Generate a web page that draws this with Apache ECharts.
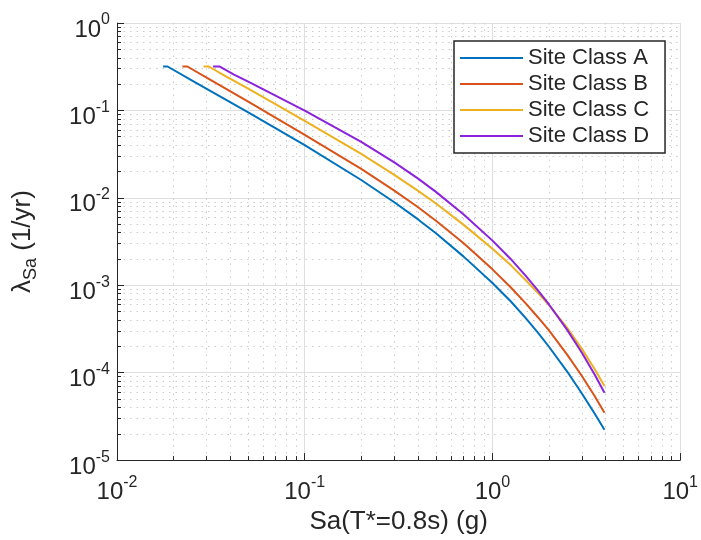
<!DOCTYPE html>
<html>
<head>
<meta charset="utf-8">
<script src="https://cdn.jsdelivr.net/npm/echarts@6/dist/echarts.min.js"></script>
<style>
html,body{margin:0;padding:0;background:#fff;}
#chart{width:701px;height:540px;}
</style>
</head>
<body>
<div id="chart"></div>
<script>
// Data
const seriesNames = ['Site Class A', 'Site Class B', 'Site Class C', 'Site Class D'];
const saA = [0.0176, 0.0186, 0.025, 0.05, 0.1, 0.2, 0.3, 0.4, 0.5, 0.7, 1, 1.25, 1.5, 1.75, 2, 2.5, 3, 3.5, 3.95];
const lamA = [0.318, 0.318, 0.220, 0.0951, 0.0400, 0.0160, 0.0089, 0.0057, 0.00393, 0.00214, 0.00106, 0.000656, 0.000424, 0.000285, 0.000198, 0.000103, 0.0000575, 0.0000341, 0.0000222];
const saB = [0.0223, 0.0237, 0.03, 0.05, 0.1, 0.2, 0.3, 0.4, 0.5, 0.7, 1, 1.25, 1.5, 1.75, 2, 2.5, 3, 3.5, 3.95];
const lamB = [0.318, 0.318, 0.237, 0.126, 0.0526, 0.0214, 0.0121, 0.00785, 0.00548, 0.00305, 0.00152, 0.000948, 0.000624, 0.000428, 0.000304, 0.000161, 0.000091, 0.000054, 0.0000349];
const saC = [0.0289, 0.0308, 0.038, 0.05, 0.1, 0.2, 0.3, 0.4, 0.5, 0.7, 1, 1.25, 1.5, 1.75, 2, 2.5, 3, 3.5, 3.95];
const lamC = [0.318, 0.318, 0.245, 0.177, 0.076, 0.0318, 0.0183, 0.0121, 0.00861, 0.00494, 0.00262, 0.0017, 0.00115, 0.000813, 0.000594, 0.000325, 0.000186, 0.00011, 0.0000703];
const saD = [0.0325, 0.0351, 0.042, 0.05, 0.1, 0.2, 0.3, 0.4, 0.5, 0.7, 1, 1.25, 1.5, 1.75, 2, 2.5, 3, 3.5, 3.95];
const lamD = [0.318, 0.318, 0.257, 0.213, 0.0995, 0.0437, 0.0254, 0.0167, 0.0117, 0.0065, 0.00324, 0.002, 0.00129, 0.000867, 0.000603, 0.000309, 0.000168, 0.0000955, 0.000059];
const colors = ['#0072BD', '#D95319', '#EDB120', '#8C22DC'];

const xs = [saA, saB, saC, saD];
const ys = [lamA, lamB, lamC, lamD];

const FONT = '"Liberation Sans", Arial, Helvetica, sans-serif';
const INK = '#262626';

function powLabel(value) {
  const e = Math.round(Math.log10(value));
  return '{b|10}{s|' + e + '}';
}
const richLabel = {
  b: { fontSize: 24, fontFamily: FONT, color: INK, lineHeight: 30, verticalAlign: 'bottom' },
  s: { fontSize: 16, fontFamily: FONT, color: INK, lineHeight: 8, verticalAlign: 'top' }
};

const chart = echarts.init(document.getElementById('chart'), null, { renderer: 'canvas' });

const series = seriesNames.map((name, i) => ({
  name: name,
  type: 'line',
  data: xs[i].map((x, j) => [x, ys[i][j]]),
  symbol: 'none',
  smooth: false,
  lineStyle: { color: colors[i], width: 2, join: 'round' },
  itemStyle: { color: colors[i] },
  emphasis: { disabled: true },
  z: 3 + i
}));

const option = {
  animation: false,
  backgroundColor: '#ffffff',
  grid: { left: 117, right: 18, top: 23, bottom: 79, containLabel: false },
  legend: {
    orient: 'vertical',
    left: 454,
    top: 41,
    padding: [6, 16, 6, 6],
    itemGap: 4,
    itemWidth: 63,
    itemHeight: 2,
    icon: 'rect',
    borderColor: INK,
    borderWidth: 1.5,
    backgroundColor: '#ffffff',
    textStyle: { fontSize: 22, fontFamily: FONT, color: INK, lineHeight: 22 },
    data: seriesNames
  },
  xAxis: {
    type: 'log',
    logBase: 10,
    min: 0.01,
    max: 10,
    splitNumber: 3,
    name: 'Sa(T*=0.8s) (g)',
    nameLocation: 'middle',
    nameGap: 48,
    nameTextStyle: { fontSize: 26, fontFamily: FONT, color: INK },
    axisLine: { show: true, lineStyle: { color: INK, width: 1 } },
    axisTick: { show: true, inside: true, length: 7, lineStyle: { color: INK } },
    minorTick: { show: true, splitNumber: 9, length: 4, lineStyle: { color: INK } },
    axisLabel: { margin: 14, formatter: powLabel, rich: richLabel },
    splitLine: { show: true, lineStyle: { color: '#dedede', width: 1 } },
    minorSplitLine: { show: true, lineStyle: { color: '#cccccc', width: 1, type: [1.5, 5] } }
  },
  yAxis: {
    type: 'log',
    logBase: 10,
    min: 0.00001,
    max: 1,
    splitNumber: 5,
    name: '{l|λ}{sub|Sa}{n| (1/yr)}',
    nameLocation: 'middle',
    nameRotate: 90,
    nameGap: 77,
    nameTextStyle: {
      rich: {
        l: { fontSize: 26, fontFamily: FONT, color: INK, lineHeight: 30, verticalAlign: 'top' },
        sub: { fontSize: 18, fontFamily: FONT, color: INK, lineHeight: 16, verticalAlign: 'bottom' },
        n: { fontSize: 26, fontFamily: FONT, color: INK, lineHeight: 30, verticalAlign: 'top' }
      }
    },
    axisLine: { show: true, lineStyle: { color: INK, width: 1 } },
    axisTick: { show: true, inside: true, length: 7, lineStyle: { color: INK } },
    minorTick: { show: true, splitNumber: 9, length: 4, lineStyle: { color: INK } },
    axisLabel: { margin: 7, formatter: powLabel, rich: richLabel, padding: [8, 0, 0, 0] },
    splitLine: { show: true, lineStyle: { color: '#dedede', width: 1 } },
    minorSplitLine: { show: true, lineStyle: { color: '#cccccc', width: 1, type: [1.5, 5] } }
  },
  series: series
};
chart.setOption(option);
</script>
</body>
</html>
